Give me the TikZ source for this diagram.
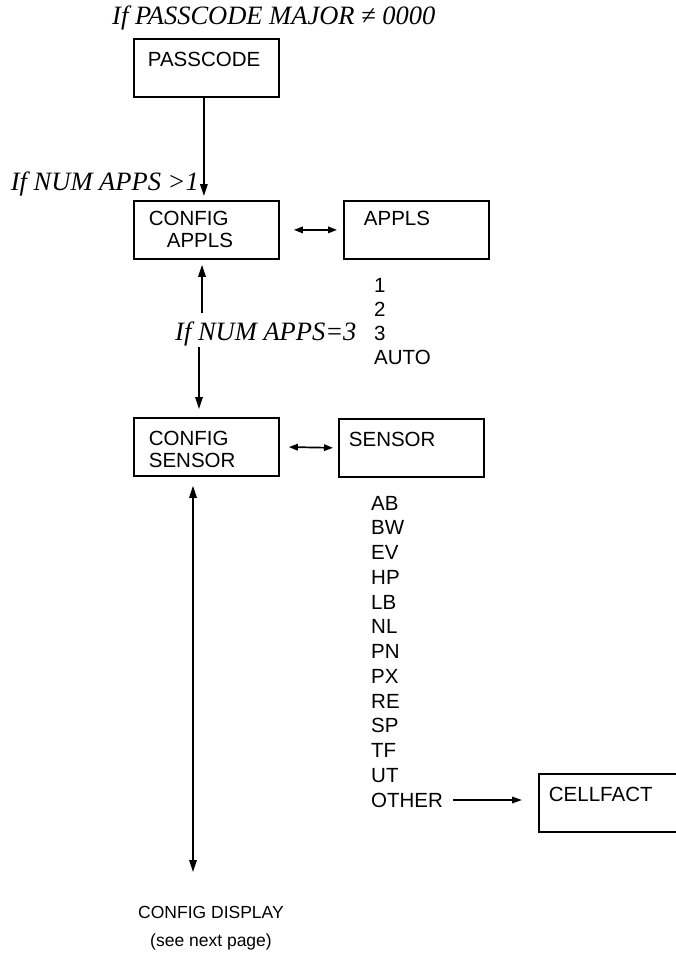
\documentclass[tikz,border=0pt]{standalone}
\usepackage{fontspec}
\setmainfont{Liberation Serif}
\setsansfont{Liberation Sans}
\usetikzlibrary{arrows.meta}
\newcommand{\menufont}{\sffamily\fontsize{20.5}{22}\selectfont}
\newcommand{\condfont}{\rmfamily\itshape\fontsize{26.5}{30}\selectfont}

\begin{document}
\begin{tikzpicture}[x=1pt,y=-1pt]
\tikzset{
  menubox/.style={draw=black,line width=1.8pt,anchor=north west,font=\menufont,align=left,
    inner xsep=#1,text width=145pt-2*#1,inner ysep=13pt,text height=14.7pt,text depth=17.3pt},
  menubox/.default=10pt,
  listitem/.style={anchor=west,inner sep=0pt,font=\menufont},
  condition/.style={inner sep=0pt,font=\condfont},
  flowedge/.style={draw=black,line width=1.7pt},
  directed/.style={flowedge,-{Triangle[length=12pt,width=7.5pt]}},
  bidirected/.style={flowedge,{Triangle[length=12pt,width=7.5pt]}-{Triangle[length=12pt,width=7.5pt]}},
  sidearrow/.style={flowedge,{Triangle[length=9pt,width=6.5pt]}-{Triangle[length=9pt,width=6.5pt]}}
}
\useasboundingbox (0,0) rectangle (676,955);
% menu boxes
\node[menubox=14pt] (n_passcode) at (133,38) {PASSCODE};
\node[menubox=15pt,inner ysep=10pt,text depth=23.3pt] (n_cfgappls) at (133,200) {CONFIG\\\hspace*{18pt}APPLS};
\node[menubox=20pt,inner ysep=10pt,text depth=23.3pt] (n_appls) at (343,200) {APPLS};
\node[menubox=15pt] (n_cfgsensor) at (133,417) {CONFIG\\SENSOR};
\node[menubox] (n_sensor) at (338,418) {SENSOR};
\node[menubox] (n_cellfact) at (538,773) {CELLFACT};
% conditions
\node[condition,anchor=base west] (n_passmajor) at (112,25) {If PASSCODE MAJOR ≠ 0000};
\node[condition,anchor=base east] (n_numapps1) at (199,190) {If NUM APPS >1};
\node[condition,anchor=base west] (n_numapps3) at (175,340) {If NUM APPS=3};
% application choices
\node[listitem] (n_app1) at (374,285) {1};
\node[listitem] (n_app2) at (374,309) {2};
\node[listitem] (n_app3) at (374,333) {3};
\node[listitem] (n_appauto) at (374,357) {AUTO};
% sensor choices
\node[listitem] (n_ab) at (371,503.00) {AB};
\node[listitem] (n_bw) at (371,527.75) {BW};
\node[listitem] (n_ev) at (371,552.50) {EV};
\node[listitem] (n_hp) at (371,577.25) {HP};
\node[listitem] (n_lb) at (371,602.00) {LB};
\node[listitem] (n_nl) at (371,626.75) {NL};
\node[listitem] (n_pn) at (371,651.50) {PN};
\node[listitem] (n_px) at (371,676.25) {PX};
\node[listitem] (n_re) at (371,701.00) {RE};
\node[listitem] (n_sp) at (371,725.75) {SP};
\node[listitem] (n_tf) at (371,750.50) {TF};
\node[listitem] (n_ut) at (371,775.25) {UT};
\node[listitem] (n_other) at (371,800.00) {OTHER};
% next page
\node[font=\sffamily\fontsize{17.5}{28}\selectfont,align=center,anchor=base] (n_cfgdisplay) at (211,946) {CONFIG DISPLAY\\(see next page)};
\coordinate (c_up) at (202,313);
\coordinate (c_down) at (199,347);
\coordinate (c_display) at (193,872);
% connectors
\draw[directed,shorten >=4pt] ([xshift=-2.5pt]n_passcode.south) -- ([xshift=-2.5pt]n_cfgappls.north);
\draw[sidearrow,shorten <=14pt,shorten >=6pt] (n_cfgappls.east) -- (n_appls.west);
\draw[directed,shorten >=5pt] (c_up) -- (c_up |- n_cfgappls.south);
\draw[directed,shorten >=8pt] (c_down) -- (c_down |- n_cfgsensor.north);
\draw[sidearrow,shorten <=9pt,shorten >=5pt] (n_cfgsensor.east) -- (n_sensor.west);
\draw[bidirected,shorten <=9pt] (c_display |- n_cfgsensor.south) -- (c_display);
\draw[sidearrow,-{Triangle[length=10pt,width=6.5pt]},shorten <=10pt,shorten >=16pt] (n_other.east) -- (n_other.east -| n_cellfact.west);
\end{tikzpicture}
\end{document}
